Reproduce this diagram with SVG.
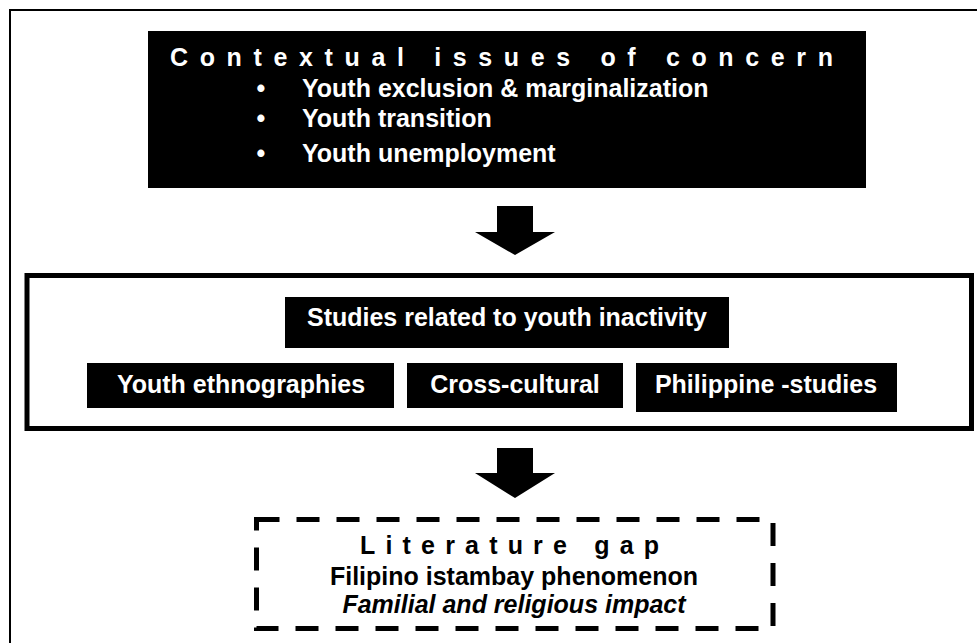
<svg xmlns="http://www.w3.org/2000/svg" width="977" height="643" viewBox="0 0 977 643">
  <style>
    text { font-family: "Liberation Sans", Arial, sans-serif; font-weight: bold; font-size: 25px; }
    .white { fill: #ffffff; }
    .dark { fill: #000000; }
    .mid { text-anchor: middle; }
    .box { fill: #000000; }
    .arrow { fill: #000000; }
  </style>

  <!-- page frame -->
  <rect x="10" y="10" width="1000" height="700" fill="#ffffff" stroke="#000000" stroke-width="2"/>

  <!-- contextual issues -->
  <g id="context">
    <rect class="box" x="148" y="31" width="718" height="157"/>
    <text class="white" x="170" y="66" font-size="24" textLength="663" lengthAdjust="spacing">Contextual issues of concern</text>
    <text class="white mid" x="261" y="97">•</text>
    <text class="white" x="302" y="97">Youth exclusion &amp; marginalization</text>
    <text class="white mid" x="261" y="127">•</text>
    <text class="white" x="302" y="127">Youth transition</text>
    <text class="white mid" x="261" y="162">•</text>
    <text class="white" x="302" y="162">Youth unemployment</text>
  </g>

  <!-- related studies -->
  <g id="studies">
    <rect x="27" y="275.5" width="944.5" height="153" fill="none" stroke="#000000" stroke-width="5"/>
    <g id="studies-title">
      <rect class="box" x="285" y="297" width="444" height="51"/>
      <text class="white mid" x="507" y="326">Studies related to youth inactivity</text>
    </g>
    <g id="ethnographies">
      <rect class="box" x="87" y="363" width="307" height="45"/>
      <text class="white mid" x="241" y="393">Youth ethnographies</text>
    </g>
    <g id="cross-cultural">
      <rect class="box" x="407" y="363" width="216" height="45"/>
      <text class="white mid" x="515" y="393">Cross-cultural</text>
    </g>
    <g id="philippine">
      <rect class="box" x="636" y="363" width="261" height="49"/>
      <text class="white mid" x="766" y="393">Philippine -studies</text>
    </g>
  </g>

  <!-- literature gap -->
  <g id="gap">
    <rect x="256.5" y="519.5" width="516.5" height="109" fill="none" stroke="#000000" stroke-width="5" stroke-dasharray="23 17"/>
    <text class="dark" x="360" y="554" textLength="299" lengthAdjust="spacing">Literature gap</text>
    <text class="dark mid" x="514" y="585">Filipino istambay phenomenon</text>
    <text class="dark mid" x="514" y="613" font-style="italic">Familial and religious impact</text>
  </g>

  <!-- flow arrows -->
  <g id="connectors">
    <polygon class="arrow" points="497,206 533,206 533,232 555,232 515,255 475,232 497,232"/>
    <polygon class="arrow" points="497,448 533,448 533,473 555,473 515,498 475,473 497,473"/>
  </g>
</svg>
